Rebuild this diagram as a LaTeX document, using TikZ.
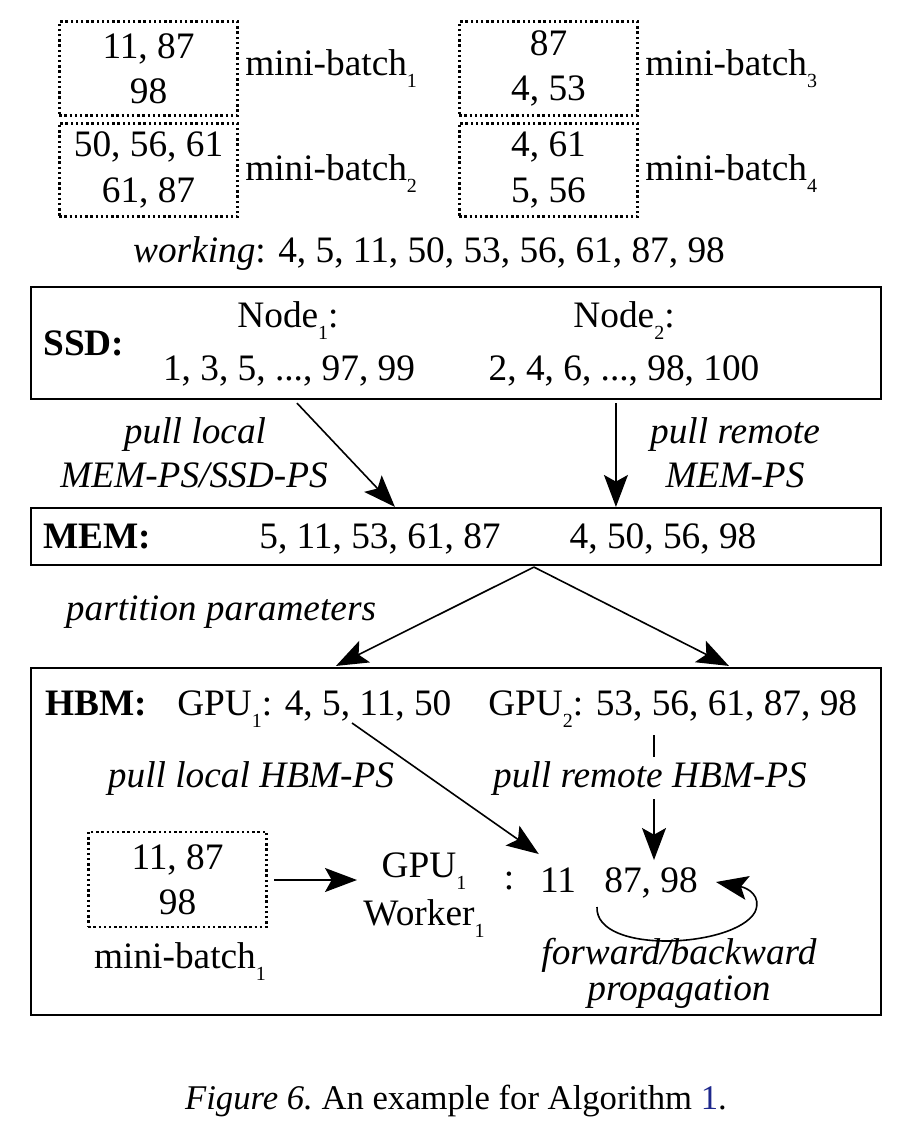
\documentclass[tikz,border=0pt]{standalone}
\usepackage{fontspec}
\setmainfont{Liberation Serif}
\usetikzlibrary{arrows.meta}
\definecolor{linkblue}{RGB}{30,40,140}
\newcommand\ssub[1]{\raisebox{-9pt}{\fontsize{15}{15}\selectfont #1}}
\begin{document}
\begin{tikzpicture}[x=0.75pt,y=-0.75pt,
  every node/.style={inner sep=0pt, font=\fontsize{28}{34}\selectfont},
  dotbox/.style={draw, line width=2.1pt, dash pattern=on 1.8pt off 2.1pt, minimum width=134pt, minimum height=70pt, align=center},
  layerbox/.style={draw, line width=1.6pt, minimum width=637.5pt},
  lbl/.style={anchor=base},
  arr/.style={line width=1.2pt, -{Stealth[length=24pt,width=18pt,inset=5pt]}},
  hd/.style={anchor=base west, font=\fontsize{28}{34}\selectfont\bfseries}]
\useasboundingbox (0,0) rectangle (906,1140);

% mini-batches at top
\node[dotbox] (b1) at (148.5,68.5) {11, 87\\98};
\node[dotbox] (b2) at (148.5,170) {50, 56, 61\\61, 87};
\node[dotbox] (b3) at (548.5,68.5) {87\\4, 53};
\node[dotbox] (b4) at (548.5,170) {4, 61\\5, 56};
\node[anchor=base west] (m1) at (245,75) {mini-batch\ssub{1}};
\node[anchor=base west] (m2) at (245,180) {mini-batch\ssub{2}};
\node[anchor=base west] (m3) at (645,75) {mini-batch\ssub{3}};
\node[anchor=base west] (m4) at (645,180) {mini-batch\ssub{4}};
\node[lbl] (work) at (429,262) {\textit{working}: 4, 5, 11, 50, 53, 56, 61, 87, 98};

% SSD
\node[layerbox, minimum height=84pt] (ssd) at (456,343) {};
\node[hd] (ssdl) at (43,355) {SSD:};
\node[lbl] (n1) at (288,327) {Node\ssub{1}:};
\node[lbl] (s1) at (289,380) {1, 3, 5, ..., 97, 99};
\node[lbl] (n2) at (624,327) {Node\ssub{2}:};
\node[lbl] (s2) at (624,380) {2, 4, 6, ..., 98, 100};

% MEM
\node[layerbox, minimum height=42.75pt] (mem) at (456,536.5) {};
\node[hd] (meml) at (43,548) {MEM:};
\node[lbl] (mv1) at (380,548) {5, 11, 53, 61, 87};
\node[lbl] (mv2) at (663,548) {4, 50, 56, 98};

\node[lbl] (pl1) at (195,443) {\textit{pull local}};
\node[lbl] (pl2) at (194,487) {\textit{MEM-PS/SSD-PS}};
\node[lbl] (pr1) at (735,443) {\textit{pull remote}};
\node[lbl] (pr2) at (735,487) {\textit{MEM-PS}};

\draw[arr] ([shift={(267,3)}]ssd.south west) -- ([shift={(365,0)}]mem.north west);
\draw[arr] ([shift={(586,3)}]ssd.south west) -- ([shift={(586,0)}]mem.north west);

% HBM
\node[layerbox, minimum height=260.25pt] (hbm) at (456,841.5) {};
\node[lbl] (pp) at (221,620) {\textit{partition parameters}};
\draw[arr] ([shift={(504,1)}]mem.south west) -- ([shift={(306,-1)}]hbm.north west);
\draw[arr] ([shift={(504,1)}]mem.south west) -- ([shift={(699,-1)}]hbm.north west);

\node[hd] (hbml) at (45,715) {HBM:};
\node[anchor=base west] (g1) at (177,715) {GPU\ssub{1}: 4, 5, 11, 50};
\node[anchor=base west] (g2) at (488,715) {GPU\ssub{2}: 53, 56, 61, 87, 98};

\node[dotbox, minimum height=71.25pt] (b5) at (177.5,879.5) {11, 87\\98};
\node[lbl] (m5) at (180,968) {mini-batch\ssub{1}};
\node[lbl] (gw1) at (424,877) {GPU\ssub{1}};
\node[lbl] (gw2) at (424,925) {Worker\ssub{1}};
\node[lbl] (colon) at (509,889) {:};
\node[lbl] (v11) at (558,892) {11};
\node[lbl] (v87) at (651,892) {87, 98};
\node[lbl] (fb1) at (679,964) {\textit{forward/backward}};
\node[lbl] (fb2) at (679,1000) {\textit{propagation}};

\draw[arr] (b5.east |- 0,880) ++(6,0) coordinate (ae) -- (357,880) coordinate (ge);
\draw[arr] ([shift={(175,8)}]g1.base west) -- ([shift={(-1,-38)}]v11.base west);
\draw[arr] ([shift={(166,20)}]g2.base west) -- ([shift={(3,-32)}]v87.base);
\node[lbl, fill=white, inner ysep=4pt] (plh) at (251,787) {\textit{pull local HBM-PS}};
\node[lbl, fill=white, inner sep=3pt] (prh) at (650,787) {\textit{pull remote HBM-PS}};

\draw[arr] ([shift={(-54,15)}]v87.base) .. controls (595,955) and (735,948) .. (755,912) .. controls (762,896) and (748,888) .. (716,882);

% caption
\node[lbl, font=\fontsize{26}{30}\selectfont] (cap) at (456,1109) {\textit{Figure 6.}\ An example for Algorithm \textcolor{linkblue}{1}.};
\end{tikzpicture}
\end{document}
